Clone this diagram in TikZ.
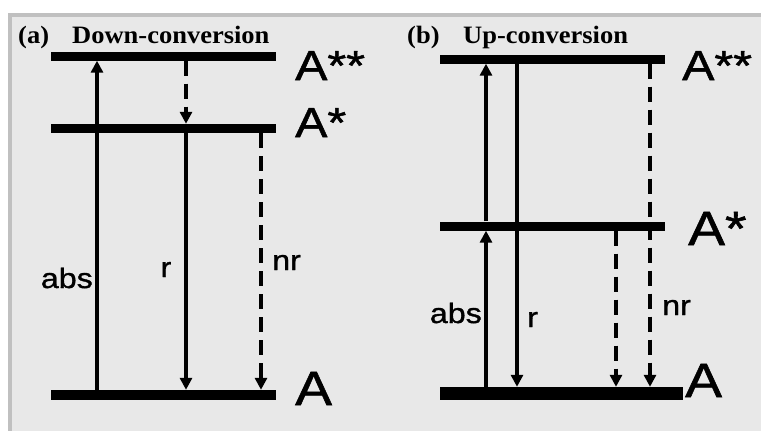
\documentclass[tikz,border=0pt]{standalone}
\usepackage{fontspec}
\usetikzlibrary{arrows.meta}
\newfontfamily\lblfont[FakeStretch=1.15,FakeBold=1.2]{Liberation Sans}
\newfontfamily\ttlfont[FakeStretch=1.06]{Liberation Serif}
\definecolor{panelbg}{RGB}{232,232,232}
\definecolor{panelrim}{RGB}{192,192,192}
\begin{document}
\begin{tikzpicture}[x=1pt,y=-1pt,
  level/.style={fill=black, draw=none, inner sep=0pt, minimum height=#1},
  level/.default=9pt,
  trans/.style={line width=3.2pt, -{Triangle[width=12pt,length=12pt]}},
  dtrans/.style={trans, dash pattern=on 15pt off 8pt},
  statelbl/.style={font={\lblfont\fontsize{#1}{#1}\selectfont}, anchor=base west, inner sep=0pt},
  statelbl/.default=42pt,
  proclbl/.style={font={\lblfont\fontsize{28pt}{28pt}\selectfont}, inner sep=0pt},
  title/.style={font={\ttlfont\bfseries\fontsize{25pt}{25pt}\selectfont}, anchor=base west, inner sep=0pt}]
\useasboundingbox (0,0) rectangle (761,431);
% panel background with its rim
\fill[white] (0,0) rectangle (761,431);
\fill[panelbg] (8,13) rectangle (761,431);
\fill[panelrim] (8,13) rectangle (761,17);
\fill[panelrim] (8,13) rectangle (12,431);

% ---------- (a) down-conversion ----------
\node[title] (ta) at (18,43) {(a)};
\node[title] (tda) at (72,43) {Down-conversion};
\node[level, minimum width=225pt] (aTop) at (163.5,56) {};
\node[level, minimum width=225pt] (aMid) at (163.5,128.5) {};
\node[level=10pt, minimum width=225pt] (aBot) at (163.5,395) {};
\node[statelbl] (laTop) at (295,80) {A**};
\node[statelbl] (laMid) at (295,137) {A*};
\node[statelbl=48pt] (laBot) at (295,405) {A};
\coordinate (xaAbs) at (97,0);
\coordinate (xaR) at (186,0);
\coordinate (xaNr) at (261,0);
\draw[trans] (xaAbs |- aBot.north) -- (xaAbs |- aTop.south);
\draw[dtrans] (xaR |- aTop.south) -- (xaR |- aMid.north);
\draw[trans] (xaR |- aMid.south) -- (xaR |- aBot.north);
\draw[dtrans] (xaNr |- aMid.south) -- (xaNr |- aBot.north);
\node[proclbl, anchor=base east] (laAbs) at (93,288) {abs};
\node[proclbl, anchor=base] (laR) at (166,277) {r};
\node[proclbl, anchor=base west] (laNr) at (272,270) {nr};

% ---------- (b) up-conversion ----------
\node[title] (tb) at (407,43) {(b)};
\node[title] (tub) at (463,43) {Up-conversion};
\node[level, minimum width=225pt] (bTop) at (552.5,59) {};
\node[level, minimum width=225pt] (bMid) at (552.5,226) {};
\node[level=13pt, minimum width=243pt] (bBot) at (561.5,393.5) {};
\node[statelbl] (lbTop) at (682,80) {A**};
\node[statelbl=48pt] (lbMid) at (688,245) {A*};
\node[statelbl=48pt] (lbBot) at (685,397) {A};
\coordinate (xbAbs) at (486,0);
\coordinate (xbR) at (517,0);
\coordinate (xbN1) at (616,0);
\coordinate (xbN2) at (650,0);
\draw[trans] (xbAbs |- bBot.north) -- (xbAbs |- bMid.south);
\draw[trans] (xbAbs |- bMid.north) -- (xbAbs |- bTop.south);
\draw[trans] (xbR |- bTop.south) -- (xbR |- bBot.north);
\draw[dtrans] (xbN1 |- bMid.south) -- (xbN1 |- bBot.north);
\draw[dtrans] (xbN2 |- bTop.south) -- (xbN2 |- bBot.north);
\node[proclbl, anchor=base east] (lbAbs) at (482,323) {abs};
\node[proclbl, anchor=base west] (lbR) at (527,327) {r};
\node[proclbl, anchor=base west] (lbNr) at (662,315) {nr};
\end{tikzpicture}
\end{document}
